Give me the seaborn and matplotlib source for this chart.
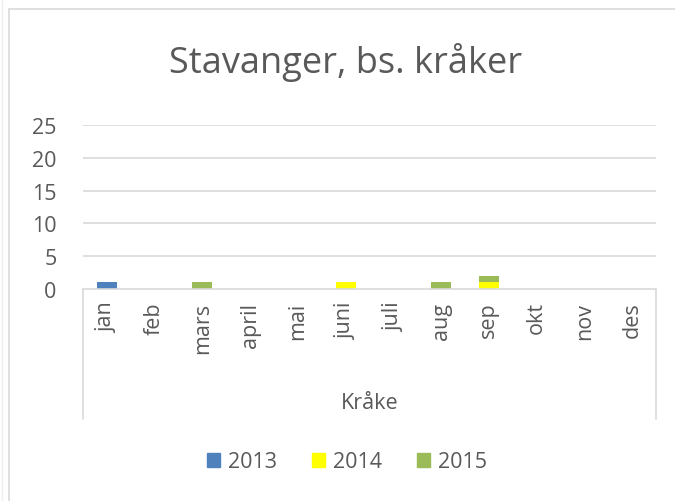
import matplotlib.pyplot as plt
import matplotlib.patches as mpatches
import pandas as pd
import seaborn as sns

months = ['jan', 'feb', 'mars', 'april', 'mai', 'juni', 'juli', 'aug', 'sep', 'okt', 'nov', 'des']
v2013 = [1, 0, 0, 0, 0, 0, 0, 0, 0, 0, 0, 0]
v2014 = [0, 0, 0, 0, 0, 1, 0, 0, 1, 0, 0, 0]
v2015 = [0, 0, 1, 0, 0, 0, 0, 1, 1, 0, 0, 0]
years = ['2013', '2014', '2015']
colors = ['#4F81BD', '#FFFF00', '#9BBB59']

df = pd.DataFrame({'month': months, '2013': v2013, '2014': v2014, '2015': v2015})
# cumulative sums so the bars can be stacked by overlaying
df['c2013'] = df['2013']
df['c2014'] = df['c2013'] + df['2014']
df['c2015'] = df['c2014'] + df['2015']

sns.set_style("white")
plt.rcParams['font.family'] = ['Open Sans', 'DejaVu Sans']
txt = '#595959'
grid = '#D9D9D9'
fs = 15.5

fig = plt.figure(figsize=(6.75, 5.02), dpi=100)
ax = fig.add_axes([83 / 675, 1 - 290 / 502, (656 - 83) / 675, (290 - 126) / 502])

for col, c in zip(['c2015', 'c2014', 'c2013'], colors[::-1]):
    sns.barplot(data=df, x='month', y=col, color=c, width=0.42, ax=ax,
                saturation=1, errorbar=None, linewidth=0)

ax.set_ylim(0, 25)
ax.set_xlim(-0.5, 11.5)
ax.set_yticks(range(0, 26, 5))
for y in range(5, 26, 5):
    ax.axhline(y, color=grid, lw=1.2, zorder=0)
for s in ax.spines.values():
    s.set_visible(False)
ax.plot([0, 1], [0, 0], transform=ax.transAxes, color=grid, lw=1.2, clip_on=False)
for xx in (0, 1):
    ax.plot([xx, xx], [0, -130 / 164], transform=ax.transAxes, color=grid, lw=1.2, clip_on=False)

ax.tick_params(axis='y', length=0, pad=19, labelsize=fs, labelcolor=txt)
ax.tick_params(axis='x', length=0, pad=9, labelsize=fs, labelcolor=txt, labelrotation=90)
ax.set_xlabel('')
ax.set_ylabel('')
fig.text((83 + 656) / 2 / 675, 1 - 404 / 502, 'Kråke', ha='center', va='center', fontsize=fs, color=txt)

fig.text(346 / 675, 1 - 63 / 502, 'Stavanger, bs. kråker', ha='center', va='center', fontsize=26, color=txt)

handles = [mpatches.Patch(color=c, label=y) for c, y in zip(colors, years)]
fig.legend(handles=handles, loc='center', bbox_to_anchor=(347 / 675, 1 - 463 / 502), ncol=3,
           frameon=False, fontsize=fs, handlelength=0.6, handleheight=0.6, handletextpad=0.4,
           columnspacing=1.6, labelcolor=txt)

# chart border
fig.add_artist(mpatches.Rectangle((9 / 675, -0.05), 1, 1 - 10 / 502 + 0.05, transform=fig.transFigure,
                                  fill=False, edgecolor=grid, lw=1.2))
fig.add_artist(plt.Line2D([1.5 / 675, 1.5 / 675], [0, 1], transform=fig.transFigure, color='#EEEEEE', lw=1))

fig.savefig('out.png', dpi=100)
